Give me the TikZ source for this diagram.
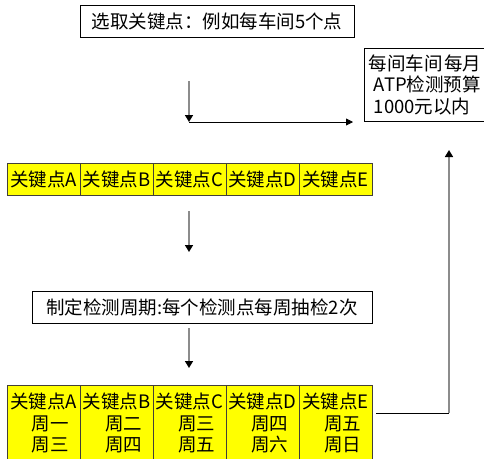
\documentclass[tikz,border=0pt]{standalone}
\usepackage{fontspec}
\setmainfont{Noto Sans CJK SC}
\usetikzlibrary{arrows.meta}
\definecolor{cellyellow}{RGB}{255,255,0}
\definecolor{linegray}{RGB}{140,140,140}
\begin{document}
\begin{tikzpicture}[x=1pt,y=-1pt,
  txt/.style={font=\fontsize{18.5}{21.5}\selectfont},
  box/.style={draw=black,line width=0.8pt,fill=white,inner sep=0pt,txt},
  cell/.style={draw=black!85!yellow,line width=0.8pt,fill=cellyellow,inner sep=0pt,minimum width=73pt,txt,align=center},
  garrow/.style={draw=linegray,line width=1.6pt,-{Triangle[length=7pt,width=8pt,color=black]}},
  barrow/.style={draw=black,line width=0.8pt,-{Triangle[length=7pt,width=7pt,color=black]}},
  bline/.style={draw=black,line width=0.8pt}]
\useasboundingbox (0,0) rectangle (484,458);
\fill[white] (0,0) rectangle (484,458);
% top box
\node[box,minimum width=274pt,minimum height=32pt] (top) at (217,21) {选取关键点：例如每车间5个点};
% right box
\node[box,anchor=north west,minimum height=73pt,text width=125pt,align=left,inner xsep=4.5pt] (budget) at (364,48)
  {每间车间\hspace{1.5pt}每月\\\hspace*{5pt}ATP检测预算\\\hspace*{5pt}1000元以内};
% row 1
\node[cell,minimum height=32pt] (r1a) at (43.5,179) {关键点A};
\node[cell,minimum height=32pt] (r1b) at (116.5,179) {关键点B};
\node[cell,minimum height=32pt] (r1c) at (189.5,179) {关键点C};
\node[cell,minimum height=32pt] (r1d) at (262.5,179) {关键点D};
\node[cell,minimum height=32pt] (r1e) at (335.5,179) {关键点E};
% box 2
\node[box,minimum width=340pt,minimum height=32pt] (plan) at (202,307) {制定检测周期:每个检测点每周抽检2次};
% row 2
\node[cell,minimum height=76pt] (r2a) at (43.5,423) {关键点A\\\hspace*{14pt}周一\\\hspace*{14pt}周三};
\node[cell,minimum height=76pt] (r2b) at (116.5,423) {关键点B\\\hspace*{14pt}周二\\\hspace*{14pt}周四};
\node[cell,minimum height=76pt] (r2c) at (189.5,423) {关键点C\\\hspace*{14pt}周三\\\hspace*{14pt}周五};
\node[cell,minimum height=76pt] (r2d) at (262.5,423) {关键点D\\\hspace*{14pt}周四\\\hspace*{14pt}周六};
\node[cell,minimum height=76pt] (r2e) at (335.5,423) {关键点E\\\hspace*{14pt}周五\\\hspace*{14pt}周日};
% connector coordinates
\coordinate (a1s) at (189,81);
\coordinate (a1e) at (189,122);
\coordinate (h1e) at (353,122);
\coordinate (a2s) at (189,211);
\coordinate (a2e) at (189,252);
\coordinate (a3s) at (189,328);
\coordinate (a3e) at (189,368);
\coordinate (fbs) at (376,413);
\coordinate (fbc) at (449,413);
\coordinate (fbe) at (449,150);
% connectors
\draw[garrow] (a1s) -- (a1e);
\draw[barrow] (a1e) -- (h1e);
\draw[garrow] (a2s) -- (a2e);
\draw[garrow] (a3s) -- (a3e);
\draw[bline] (fbs) -- (fbc);
\draw[garrow] (fbc) -- (fbe);
\end{tikzpicture}
\end{document}
